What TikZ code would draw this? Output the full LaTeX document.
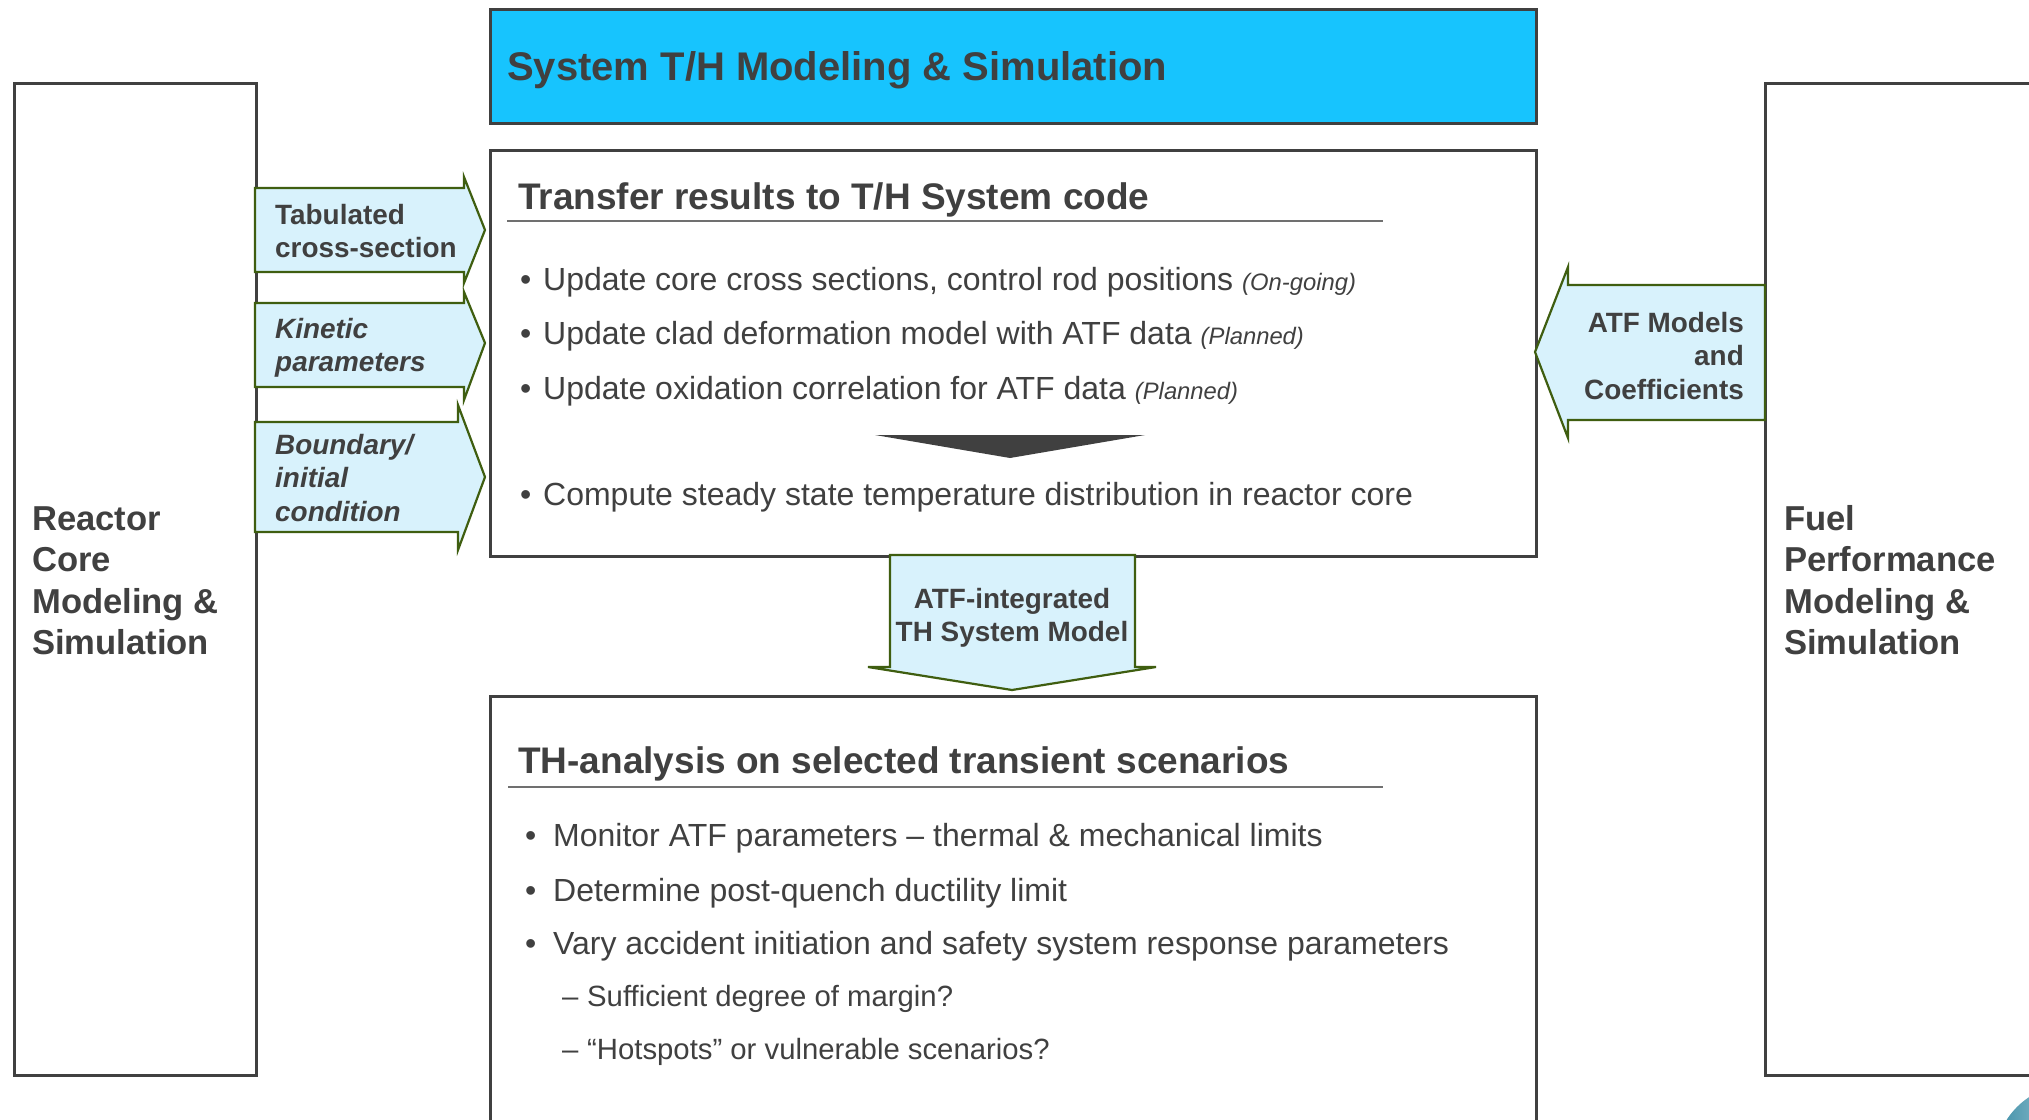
\documentclass[tikz,border=0pt]{standalone}
\usepackage{fontspec}
\setmainfont{Liberation Sans}
\usepackage{xcolor}
\definecolor{TextGray}{HTML}{404040}
\definecolor{HeadCyan}{HTML}{17C4FE}
\definecolor{ArrowFill}{HTML}{D8F2FC}
\definecolor{ArrowEdge}{HTML}{3F5E10}
\definecolor{RuleGray}{HTML}{707070}
\definecolor{LogoTeal}{HTML}{3F8FA8}
\usetikzlibrary{positioning, calc}
\tikzset{
  % Box styles
  sidebox/.style={rectangle, draw=TextGray, line width=2.5pt, fill=white, anchor=north west, inner sep=0pt},
  panelbox/.style={rectangle, draw=TextGray, line width=2.5pt, fill=white, anchor=north west, inner sep=0pt},
  headbox/.style={rectangle, draw=TextGray, line width=3pt, fill=HeadCyan, anchor=north west, inner sep=0pt},
  % Block arrow style
  blockarrow/.style={draw=ArrowEdge, line width=2.2pt, fill=ArrowFill, line join=miter},
  % Text styles
  headtext/.style={anchor=base west, inner sep=0pt, text=TextGray, font=\fontsize{40}{48}\selectfont\bfseries},
  titletext/.style={anchor=base west, inner sep=0pt, text=TextGray, font=\fontsize{37}{44}\selectfont\bfseries},
  itemtext/.style={anchor=base west, inner sep=0pt, text=TextGray, font=\fontsize{32}{38}\selectfont},
  subtext/.style={anchor=base west, inner sep=0pt, text=TextGray, font=\fontsize{29.3}{35}\selectfont},
  sidetext/.style={anchor=base west, inner sep=0pt, text=TextGray, font=\fontsize{34.6}{41.5}\selectfont\bfseries},
  arrowtext/.style={anchor=base west, inner sep=0pt, text=TextGray, font=\fontsize{27.9}{33.5}\selectfont\bfseries},
  % Rule under the titles
  titlerule/.style={draw=RuleGray, line width=2pt}
}
\newcommand{\statusnote}[1]{{\fontsize{23.8}{28}\selectfont\itshape (#1)}}
\newcommand{\dotitem}[2]{\makebox[#1][l]{\textbullet}#2}

\begin{document}
\begin{tikzpicture}[x=1pt, y=-1pt]
  \clip (0,0) rectangle (2029,1119);
  \fill[white] (0,0) rectangle (2029,1119);

  % Side boxes
  \node[sidebox, minimum width=242pt, minimum height=992pt] (corebox) at (13,82) {};
  \node[sidebox, minimum width=300pt, minimum height=992pt] (fuelbox) at (1764,82) {};
  \node[sidetext] (coretext) at (32,530) {\begin{tabular}[t]{@{}l@{}}Reactor\\Core\\Modeling \&\\Simulation\end{tabular}};
  \node[sidetext] (fueltext) at (1784,530) {\begin{tabular}[t]{@{}l@{}}Fuel\\Performance\\Modeling \&\\Simulation\end{tabular}};

  % Header
  \node[headbox, minimum width=1046pt, minimum height=114pt] (head) at (489,8) {};
  \node[headtext] (headtitle) at (507,80) {System T/H Modeling \& Simulation};

  % Transfer panel
  \node[panelbox, minimum width=1046pt, minimum height=406pt] (transfer) at (489,149) {};
  \node[titletext] (transfertitle) at (518,209) {Transfer results to T/H System code};
  \draw[titlerule] (507,221) -- (1383,221);
  \node[itemtext] (upxs) at (520,290) {\dotitem{23pt}{Update core cross sections, control rod positions \statusnote{On-going}}};
  \node[itemtext] (upclad) at (520,344) {\dotitem{23pt}{Update clad deformation model with ATF data \statusnote{Planned}}};
  \node[itemtext] (upox) at (520,399) {\dotitem{23pt}{Update oxidation correlation for ATF data \statusnote{Planned}}};
  \fill[TextGray] (875,435) -- (1145,435) -- (1010,458) -- cycle;
  \node[itemtext] (steady) at (520,505) {\dotitem{23pt}{Compute steady state temperature distribution in reactor core}};

  % Analysis panel
  \node[panelbox, minimum width=1046pt, minimum height=500pt] (analysis) at (489,695) {};
  \node[titletext] (analysistitle) at (518,773) {TH-analysis on selected transient scenarios};
  \draw[titlerule] (508,787) -- (1383,787);
  \node[itemtext] (monitor) at (525,846) {\dotitem{28pt}{Monitor ATF parameters -- thermal \& mechanical limits}};
  \node[itemtext] (ductil) at (525,901) {\dotitem{28pt}{Determine post-quench ductility limit}};
  \node[itemtext] (vary) at (525,954) {\dotitem{28pt}{Vary accident initiation and safety system response parameters}};
  \node[subtext] (margin) at (562,1006) {\makebox[25pt][l]{--}Sufficient degree of margin?};
  \node[subtext] (hotspot) at (562,1059) {\makebox[25pt][l]{--}``Hotspots'' or vulnerable scenarios?};

  % Block arrows from the core box
  \draw[blockarrow] (255,188) -- (464,188) -- (464,177) -- (485,230) -- (464,283) -- (464,272) -- (255,272) -- cycle;
  \draw[blockarrow] (255,303) -- (464,303) -- (464,292) -- (485,343) -- (464,400) -- (464,387) -- (255,387) -- cycle;
  \draw[blockarrow] (255,422) -- (458,422) -- (458,405) -- (485,477) -- (458,550) -- (458,532) -- (255,532) -- cycle;
  \node[arrowtext] (xsec) at (275,224) {\begin{tabular}[t]{@{}l@{}}Tabulated\\cross-section\end{tabular}};
  \node[arrowtext] (kinetic) at (275,338) {\itshape\begin{tabular}[t]{@{}l@{}}Kinetic\\parameters\end{tabular}};
  \node[arrowtext] (bound) at (275,454) {\itshape\begin{tabular}[t]{@{}l@{}}Boundary/\\initial\\condition\end{tabular}};

  % Block arrow from the fuel box
  \draw[blockarrow] (1765,285) -- (1568,285) -- (1568,267) -- (1535,352) -- (1568,438) -- (1568,420) -- (1765,420) -- cycle;
  \node[arrowtext, anchor=base east] (atfmod) at (1744,332) {\begin{tabular}[t]{@{}r@{}}ATF Models\\and\\Coefficients\end{tabular}};

  % Block arrow down to the analysis panel
  \draw[blockarrow] (890,555) -- (1135,555) -- (1135,667) -- (1156,667) -- (1012,690) -- (868,667) -- (890,667) -- cycle;
  \node[arrowtext, anchor=base] (thmodel) at (1012,608) {\begin{tabular}[t]{@{}c@{}}ATF-integrated\\TH System Model\end{tabular}};

  % Logo corner
  \shade[left color=LogoTeal, right color=white] (2070,1160) circle (75);
\end{tikzpicture}
\end{document}
